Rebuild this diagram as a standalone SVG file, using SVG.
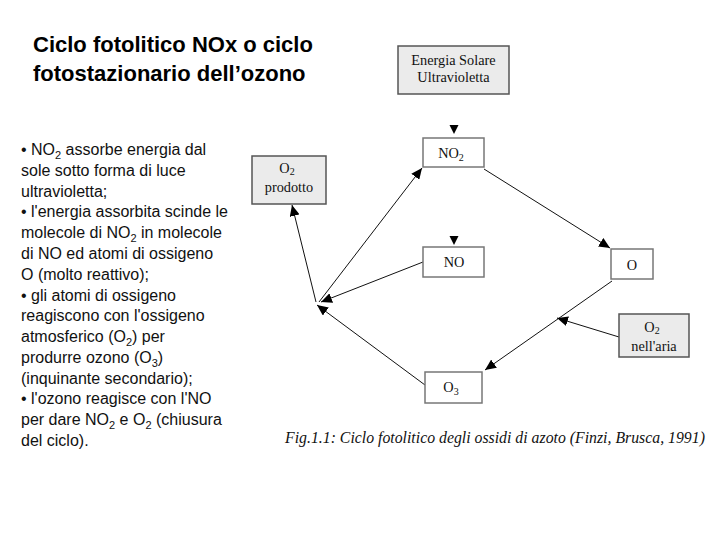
<svg xmlns="http://www.w3.org/2000/svg" width="720" height="540" viewBox="0 0 720 540">
<style>
.title{font-family:"Liberation Sans",Arial,sans-serif;font-size:22px;font-weight:bold;fill:#000}
.body{font-family:"Liberation Sans",Arial,sans-serif;font-size:16px;fill:#111}
.lab{font-family:"Liberation Serif","Times New Roman",serif;font-size:14.3px;fill:#111;text-anchor:middle}
.cap{font-family:"Liberation Serif","Times New Roman",serif;font-size:15.8px;font-style:italic;fill:#111}
.box{fill:#fff;stroke:#777;stroke-width:1.5}
.gbox{fill:#ebebeb;stroke:#555;stroke-width:1.5}
.con{stroke:#111;stroke-width:1;fill:none}
</style>
<defs>
<marker id="ah" markerUnits="userSpaceOnUse" markerWidth="12" markerHeight="10" refX="11" refY="5" orient="auto">
<path d="M0,0 L11,5 L0,10 z" fill="#000"/>
</marker>
</defs>
<rect width="720" height="540" fill="#fff"/>
<g id="title">
<text class="title" x="33" y="52">Ciclo fotolitico NOx o ciclo</text>
<text class="title" x="33" y="81">fotostazionario dell’ozono</text>
</g>
<g id="bodytext" class="body">
<text x="21" y="155">• NO<tspan font-size="11" dy="4">2</tspan><tspan dy="-4"> assorbe energia dal</tspan></text>
<text x="21" y="176">sole sotto forma di luce</text>
<text x="21" y="196.5">ultravioletta;</text>
<text x="21" y="217">• l'energia assorbita scinde le</text>
<text x="21" y="238">molecole di NO<tspan font-size="11" dy="4">2</tspan><tspan dy="-4"> in molecole</tspan></text>
<text x="21" y="259">di NO ed atomi di ossigeno</text>
<text x="21" y="279.5">O (molto reattivo);</text>
<text x="21" y="300.5">• gli atomi di ossigeno</text>
<text x="21" y="321">reagiscono con l'ossigeno</text>
<text x="21" y="342">atmosferico (O<tspan font-size="11" dy="4">2</tspan><tspan dy="-4">) per</tspan></text>
<text x="21" y="362.5">produrre ozono (O<tspan font-size="11" dy="4">3</tspan><tspan dy="-4">)</tspan></text>
<text x="21" y="383.5">(inquinante secondario);</text>
<text x="21" y="404">• l'ozono reagisce con l'NO</text>
<text x="21" y="425">per dare NO<tspan font-size="11" dy="4">2</tspan><tspan dy="-4"> e O</tspan><tspan font-size="11" dy="4">2</tspan><tspan dy="-4"> (chiusura</tspan></text>
<text x="21" y="445.5">del ciclo).</text>
</g>
<g id="connectors">
<line class="con" x1="484" y1="169" x2="610" y2="248" marker-end="url(#ah)"/>
<line class="con" x1="612" y1="281" x2="485" y2="370" marker-end="url(#ah)"/>
<line class="con" x1="619" y1="337" x2="557" y2="318" marker-end="url(#ah)"/>
<line class="con" x1="425" y1="385" x2="317" y2="305" marker-end="url(#ah)"/>
<line class="con" x1="423" y1="262" x2="321" y2="302" marker-end="url(#ah)"/>
<line class="con" x1="319" y1="302" x2="422" y2="168" marker-end="url(#ah)"/>
<line class="con" x1="316" y1="302" x2="292" y2="205" marker-end="url(#ah)"/>
<path d="M449.5,125 L458.5,125 L454,134 z" fill="#000"/>
<path d="M449.5,236 L458.5,236 L454,245 z" fill="#000"/>
</g>
<g id="energia">
<rect class="gbox" x="398" y="46" width="111" height="48"/>
<text class="lab" x="453.5" y="65">Energia Solare</text>
<text class="lab" x="453.5" y="82">Ultravioletta</text>
</g>
<g id="no2">
<rect class="box" x="423" y="138" width="61" height="29"/>
<text class="lab" x="451" y="158">NO<tspan font-size="10" dy="3">2</tspan></text>
</g>
<g id="o2prodotto">
<rect class="gbox" x="252" y="156" width="74" height="48"/>
<text class="lab" x="287" y="173">O<tspan font-size="10" dy="2">2</tspan></text>
<text class="lab" x="289" y="192">prodotto</text>
</g>
<g id="no">
<rect class="box" x="423" y="247" width="61" height="30"/>
<text class="lab" x="454" y="267">NO</text>
</g>
<g id="o">
<rect class="box" x="611" y="249" width="42" height="30"/>
<text class="lab" x="632" y="270">O</text>
</g>
<g id="o2aria">
<rect class="gbox" x="619" y="314" width="70" height="43"/>
<text class="lab" x="652" y="332">O<tspan font-size="10" dy="2">2</tspan></text>
<text class="lab" x="654" y="351">nell'aria</text>
</g>
<g id="o3">
<rect class="box" x="425" y="372" width="57" height="31"/>
<text class="lab" x="451" y="392">O<tspan font-size="10" dy="3">3</tspan></text>
</g>
<g id="caption">
<text class="cap" x="285" y="443">Fig.1.1: Ciclo fotolitico degli ossidi di azoto (Finzi, Brusca, 1991)</text>
</g>
</svg>
